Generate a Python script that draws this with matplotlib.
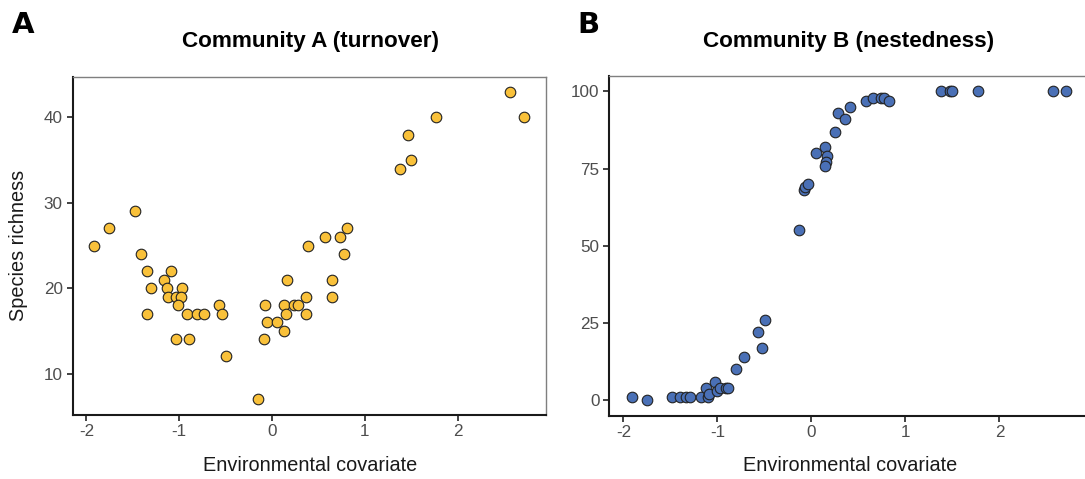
import matplotlib
matplotlib.use("Agg")
import matplotlib.pyplot as plt

plt.rcParams['font.family'] = ['Liberation Sans', 'DejaVu Sans']
plt.rcParams['axes.unicode_minus'] = False

# Community A (turnover)
xA = [-1.92, -1.76, -1.48, -1.41, -1.35, -1.09, -1.30, -1.35, -1.16, -1.13,
      -0.97, -1.12, -1.03, -0.98, -1.01, -0.92, -0.81, -0.73, -1.03, -0.89,
      -0.57, -0.54, -0.50, -0.15, -0.08, -0.06, 0.05, -0.09, 0.13, 0.15,
      0.13, 0.16, 0.24, 0.28, 0.36, 0.36, 0.39, 0.57, 0.73, 0.81,
      0.77, 0.64, 0.65, 1.38, 1.50, 1.46, 1.76, 2.56, 2.71]
yA = [25, 27, 29, 24, 22, 22, 20, 17, 21, 20,
      20, 19, 19, 19, 18, 17, 17, 17, 14, 14,
      18, 17, 12, 7, 18, 16, 16, 14, 18, 17,
      15, 21, 18, 18, 19, 17, 25, 26, 26, 27,
      24, 21, 19, 34, 35, 38, 40, 43, 40]

# Community B (nestedness)
xB = [-1.91, -1.75, -1.48, -1.40, -1.33, -1.29, -1.17, -1.12, -1.10, -1.09,
      -1.03, -1.00, -0.97, -0.91, -0.89, -0.80, -0.72, -0.57, -0.53, -0.49,
      -0.13, -0.08, -0.07, -0.04, 0.05, 0.14, 0.17, 0.16, 0.14, 0.25,
      0.28, 0.36, 0.41, 0.58, 0.66, 0.74, 0.77, 0.82, 1.38, 1.47,
      1.50, 1.77, 2.57, 2.71]
yB = [1, 0, 1, 1, 1, 1, 1, 4, 1, 2,
      6, 3, 4, 4, 4, 10, 14, 22, 17, 26,
      55, 68, 69, 70, 80, 82, 79, 77, 76, 87,
      93, 91, 95, 97, 98, 98, 98, 97, 100, 100,
      100, 100, 100, 100]

yticksA = [10, 20, 30, 40]
yticksB = [0, 25, 50, 75, 100]
xticks = [-2, -1, 0, 1, 2]

W, H = 1085, 479
fig = plt.figure(figsize=(W / 100, H / 100), dpi=100)

def px(l, t, r, b):
    return [l / W, 1 - b / H, (r - l) / W, (b - t) / H]

axA = fig.add_axes(px(72.5, 76.5, 546, 414.5))
axB = fig.add_axes(px(609.3, 76, 1088.8, 415.7))

def style(ax):
    for s in ['left', 'bottom']:
        ax.spines[s].set_color('#1a1a1a')
        ax.spines[s].set_linewidth(1.5)
    for s in ['top', 'right']:
        ax.spines[s].set_color('#7f7f7f')
        ax.spines[s].set_linewidth(1.0)
    ax.tick_params(axis='both', direction='out', length=4, width=1.3,
                   color='#333333', labelcolor='#4d4d4d', labelsize=12.3, pad=3)
    ax.set_xticks(xticks)
    ax.set_xlim(-2.15, 2.95)

axA.scatter(xA, yA, s=58, c='#F9C13A', edgecolors='#222222', linewidths=0.8, zorder=3)
axA.set_ylim(5.2, 44.8)
axA.set_yticks(yticksA)
style(axA)

axB.scatter(xB, yB, s=58, c='#4A70B6', edgecolors='#222222', linewidths=0.8, zorder=3)
axB.set_ylim(-5, 105)
axB.set_yticks(yticksB)
style(axB)

# titles
fig.text(310 / W, 1 - 47 / H, 'Community A (turnover)', ha='center', va='baseline',
         fontsize=16.2, fontweight='bold', color='black')
fig.text(849 / W, 1 - 47 / H, 'Community B (nestedness)', ha='center', va='baseline',
         fontsize=16.2, fontweight='bold', color='black')
# panel letters
fig.text(12 / W, 1 - 33 / H, 'A', ha='left', va='baseline', fontsize=21,
         fontweight='heavy', family=['DejaVu Sans'])
fig.text(577 / W, 1 - 33 / H, 'B', ha='left', va='baseline', fontsize=21,
         fontweight='heavy', family=['DejaVu Sans'])

# axis labels
fig.text(310 / W, 1 - 471 / H, 'Environmental covariate', ha='center', va='baseline',
         fontsize=14.3, color='#1a1a1a')
fig.text(850 / W, 1 - 471 / H, 'Environmental covariate', ha='center', va='baseline',
         fontsize=14.3, color='#1a1a1a')
fig.text(18 / W, 1 - 245 / H, 'Species richness', ha='center', va='center',
         rotation=90, fontsize=14.3, color='#1a1a1a')

fig.savefig('out.png', dpi=100, facecolor='white')
